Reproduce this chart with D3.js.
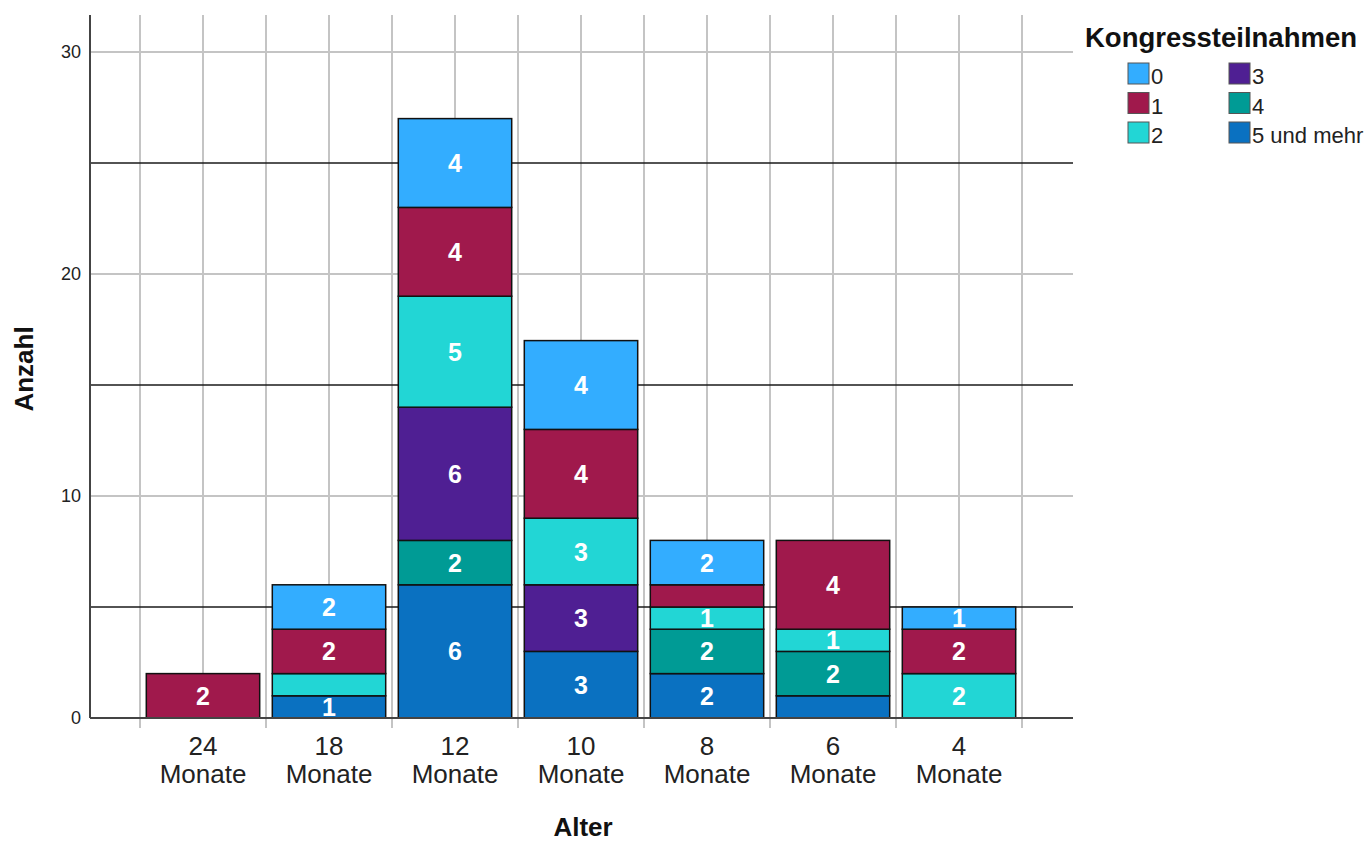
<!DOCTYPE html>
<html>
<head>
<meta charset="utf-8">
<script src="https://cdn.jsdelivr.net/npm/d3@7"></script>
<style>
  html, body { margin: 0; padding: 0; background: #fff; }
  svg { display: block; font-family: Arial, "Liberation Sans", sans-serif; }
</style>
</head>
<body>
<svg id="chart" width="1370" height="841"></svg>
<script>
// ---- Data ----
const categories = ["24 Monate", "18 Monate", "12 Monate", "10 Monate", "8 Monate", "6 Monate", "4 Monate"];
const seriesKeys = ["0", "1", "2", "3", "4", "5 und mehr"];
const values0 = [0, 2, 4, 4, 2, 0, 1];
const values1 = [2, 2, 4, 4, 1, 4, 2];
const values2 = [0, 1, 5, 3, 1, 1, 2];
const values3 = [0, 0, 6, 3, 0, 0, 0];
const values4 = [0, 0, 2, 0, 2, 2, 0];
const values5 = [0, 1, 6, 3, 2, 1, 0];
const yTicks = [0, 10, 20, 30];
const refLines = [5, 15, 25];
const hiddenLabels = [["18 Monate", "2"], ["8 Monate", "1"], ["6 Monate", "5 und mehr"]];
const colors = ["#33adff", "#a0194c", "#22d6d5", "#4f1f93", "#009b95", "#0a71c1"];

const seriesValues = [values0, values1, values2, values3, values4, values5];
const rows = categories.map((c, i) => {
  const r = { cat: c };
  seriesKeys.forEach((k, j) => r[k] = seriesValues[j][i]);
  return r;
});

// ---- Layout ----
const svg = d3.select("#chart");
const plotLeft = 90, plotRight = 1073, plotTop = 15, plotBottom = 718;

const x = d3.scaleBand().domain(categories).range([140, 1022]).paddingInner(0.1).paddingOuter(0.05);
const y = d3.scaleLinear().domain([0, 30]).range([plotBottom, 52]);
const color = d3.scaleOrdinal().domain(seriesKeys).range(colors);

const step = x.step();
const centers = categories.map(c => x(c) + x.bandwidth() / 2);
const vLines = [];
centers.forEach(cx => { vLines.push(cx - step / 2); vLines.push(cx); });
vLines.push(centers[centers.length - 1] + step / 2);

// vertical gridlines
svg.append("g").selectAll("line").data(vLines).join("line")
  .attr("x1", d => d).attr("x2", d => d)
  .attr("y1", plotTop).attr("y2", plotBottom)
  .attr("stroke", "#c4c4c4").attr("stroke-width", 2);

// horizontal gridlines at ticks
svg.append("g").selectAll("line").data(yTicks.filter(t => t > 0)).join("line")
  .attr("x1", plotLeft).attr("x2", plotRight)
  .attr("y1", d => y(d)).attr("y2", d => y(d))
  .attr("stroke", "#c4c4c4").attr("stroke-width", 2);

// reference lines
svg.append("g").selectAll("line").data(refLines).join("line")
  .attr("x1", plotLeft).attr("x2", plotRight)
  .attr("y1", d => y(d)).attr("y2", d => y(d))
  .attr("stroke", "#1a1a1a").attr("stroke-width", 1.6);

// x ticks below axis
svg.append("g").selectAll("line").data(vLines.filter((d, i) => i % 2 === 0)).join("line")
  .attr("x1", d => d).attr("x2", d => d)
  .attr("y1", plotBottom).attr("y2", plotBottom + 10)
  .attr("stroke", "#b0b0b0").attr("stroke-width", 1.5);

// stacked bars
const stack = d3.stack().keys(seriesKeys.slice().reverse());
const stacked = stack(rows);

const segs = [];
stacked.forEach(layer => {
  layer.forEach((d, i) => {
    if (d[1] - d[0] > 0) segs.push({ key: layer.key, cat: categories[i], y0: d[0], y1: d[1], v: d[1] - d[0] });
  });
});

svg.append("g").selectAll("rect").data(segs).join("rect")
  .attr("x", d => x(d.cat))
  .attr("width", x.bandwidth())
  .attr("y", d => y(d.y1))
  .attr("height", d => y(d.y0) - y(d.y1))
  .attr("fill", d => color(d.key))
  .attr("stroke", "#111").attr("stroke-width", 1.5);

const isHidden = d => hiddenLabels.some(h => h[0] === d.cat && h[1] === d.key);
svg.append("g").selectAll("text").data(segs.filter(d => !isHidden(d))).join("text")
  .attr("x", d => x(d.cat) + x.bandwidth() / 2)
  .attr("y", d => y((d.y0 + d.y1) / 2))
  .attr("dy", "0.36em")
  .attr("text-anchor", "middle")
  .attr("fill", "#fff")
  .attr("font-weight", "bold")
  .attr("font-size", 25)
  .text(d => d.v);

// axes lines
svg.append("line").attr("x1", plotLeft).attr("x2", plotLeft).attr("y1", plotTop).attr("y2", plotBottom)
  .attr("stroke", "#444").attr("stroke-width", 2);
svg.append("line").attr("x1", plotLeft).attr("x2", plotRight).attr("y1", plotBottom).attr("y2", plotBottom)
  .attr("stroke", "#444").attr("stroke-width", 2);

// y tick labels
svg.append("g").selectAll("text").data(yTicks).join("text")
  .attr("x", 81).attr("y", d => y(d)).attr("dy", "0.36em")
  .attr("text-anchor", "end").attr("font-size", 18).attr("fill", "#222")
  .text(d => d);

// x tick labels (two lines)
const xl = svg.append("g").selectAll("text").data(categories).join("text")
  .attr("text-anchor", "middle").attr("font-size", 26).attr("fill", "#222");
xl.each(function(c) {
  const parts = c.split(" ");
  const t = d3.select(this);
  const cx = x(c) + x.bandwidth() / 2;
  t.append("tspan").attr("x", cx).attr("y", 755).text(parts[0]);
  t.append("tspan").attr("x", cx).attr("y", 783).text(parts.slice(1).join(" "));
});

// axis titles
svg.append("text").attr("x", 583).attr("y", 836).attr("text-anchor", "middle")
  .attr("font-weight", "bold").attr("font-size", 26).attr("fill", "#111").text("Alter");
svg.append("text").attr("transform", "translate(33,369) rotate(-90)").attr("text-anchor", "middle")
  .attr("font-weight", "bold").attr("font-size", 26).attr("fill", "#111").text("Anzahl");

// legend
const lg = svg.append("g");
lg.append("text").attr("x", 1085).attr("y", 47).attr("font-weight", "bold").attr("font-size", 27.5)
  .attr("fill", "#111").text("Kongressteilnahmen");
const legItems = lg.selectAll("g").data(seriesKeys).join("g")
  .attr("transform", (d, i) => `translate(${i < 3 ? 1128 : 1229},${63 + (i % 3) * 29.5})`);
legItems.append("rect").attr("width", 21).attr("height", 21)
  .attr("fill", d => color(d)).attr("stroke", "#555").attr("stroke-width", 1);
legItems.append("text").attr("x", 23).attr("y", 21).attr("font-size", 22).attr("fill", "#222").text(d => d);
</script>
</body>
</html>
